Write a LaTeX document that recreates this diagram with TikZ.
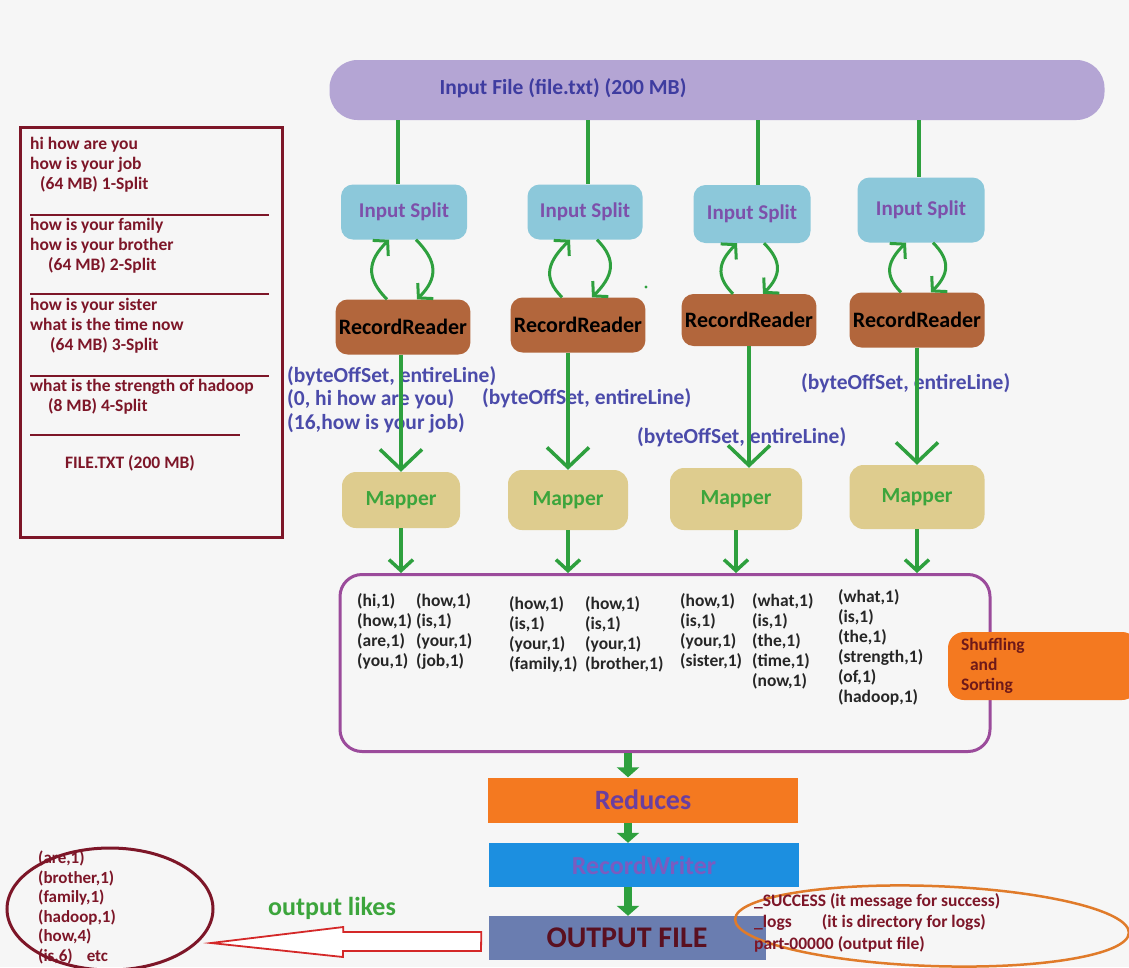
\documentclass[tikz,border=0pt]{standalone}
\usepackage{fontspec}
\setmainfont{Carlito}
\usetikzlibrary{arrows.meta,positioning,calc,shapes.geometric}
\definecolor{pagegray}{RGB}{246,246,246}
\definecolor{filepurple}{RGB}{180,165,212}
\definecolor{fileink}{RGB}{62,60,160}
\definecolor{splitblue}{RGB}{140,200,218}
\definecolor{splitink}{RGB}{125,80,170}
\definecolor{readerbrown}{RGB}{178,102,60}
\definecolor{mappertan}{RGB}{222,204,142}
\definecolor{mapink}{RGB}{60,165,60}
\definecolor{flowgreen}{RGB}{46,160,62}
\definecolor{offsetink}{RGB}{75,75,170}
\definecolor{shufflepurple}{RGB}{155,75,155}
\definecolor{hotorange}{RGB}{244,121,32}
\definecolor{sortink}{RGB}{110,25,25}
\definecolor{reduceink}{RGB}{106,63,160}
\definecolor{writerblue}{RGB}{28,143,224}
\definecolor{writerink}{RGB}{122,92,192}
\definecolor{outslate}{RGB}{106,125,176}
\definecolor{outink}{RGB}{90,16,32}
\definecolor{wine}{RGB}{125,22,40}
\definecolor{logorange}{RGB}{224,123,42}
\definecolor{arrowred}{RGB}{212,40,40}

\begin{document}
\begin{tikzpicture}[x=1pt,y=-1pt,
  boldfont/.style={font=\fontsize{#1}{#1}\selectfont\bfseries},
  filebar/.style={fill=filepurple,rounded corners=28pt,minimum width=775pt,minimum height=60pt},
  splitbox/.style={fill=splitblue,rounded corners=12pt,text=splitink,boldfont=21},
  readerbox/.style={fill=readerbrown,rounded corners=12pt,text=black,boldfont=22},
  mapperbox/.style={fill=mappertan,rounded corners=14pt,text=mapink,boldfont=21.5},
  offsetnote/.style={anchor=north west,align=left,inner sep=0pt,text=offsetink,
                     font=\fontsize{21.5}{23.5}\selectfont\bfseries},
  pairs/.style={anchor=north west,align=left,inner sep=0pt,text=black!85,
                font=\fontsize{17.5}{20}\selectfont\bfseries},
  listtext/.style={anchor=north west,align=left,inner sep=0pt,text=wine,
                   font=\fontsize{17.5}{20}\selectfont\bfseries},
  feed/.style={draw=flowgreen,line width=3.5pt},
  bigv/.style={feed,-{Straight Barb[length=20pt,width=42pt]}},
  smallv/.style={feed,-{Straight Barb[length=11pt,width=24pt]}},
  loopv/.style={feed,line width=3pt,-{Straight Barb[length=10pt,width=22pt]}},
  blockflow/.style={draw=flowgreen,line width=8pt,-{Triangle[length=10pt,width=22pt]}},
  stagebox/.style={minimum width=310pt,minimum height=45pt}]

\fill[pagegray] (0,0) rectangle (1129,967);
\useasboundingbox (0,0) rectangle (1129,967);

% input file
\node[filebar] (infile) at (717,90) {};
\node[text=fileink,boldfont=21.5] (infilelabel) at (563,88) {Input File (file.txt) (200 MB)};

% splits, readers, mappers
\node[splitbox,minimum width=126pt,minimum height=55pt] (split1) at (404,212) {Input Split};
\node[splitbox,minimum width=115pt,minimum height=55pt] (split2) at (585,212) {Input Split};
\node[splitbox,minimum width=117pt,minimum height=58pt] (split3) at (752,214) {Input Split};
\node[splitbox,minimum width=127pt,minimum height=65pt] (split4) at (921,210) {Input Split};

\node[readerbox,minimum width=123pt,minimum height=55pt] (reader1) at (403,327) {RecordReader};
\node[readerbox,minimum width=121pt,minimum height=55pt] (reader2) at (578,325) {RecordReader};
\node[readerbox,minimum width=126pt,minimum height=52pt] (reader3) at (749,320) {RecordReader};
\node[readerbox,minimum width=135pt,minimum height=55pt] (reader4) at (917,320) {RecordReader};

\node[mapperbox,minimum width=118pt,minimum height=56pt] (mapper1) at (401,500) {Mapper};
\node[mapperbox,minimum width=120pt,minimum height=60pt] (mapper2) at (568,500) {Mapper};
\node[mapperbox,minimum width=132pt,minimum height=62pt] (mapper3) at (736,499) {Mapper};
\node[mapperbox,minimum width=135pt,minimum height=64pt] (mapper4) at (917,497) {Mapper};

\foreach \i/\x in {1/398,2/588,3/758,4/919}
  \draw[feed] (\x,0 |- infile.south) -- (\x,0 |- split\i.north);

\foreach \i in {1,...,4}{
  \draw[loopv] ([xshift=-16pt]reader\i.north) to[out=135,in=225,looseness=1.3] ([xshift=-15pt]split\i.south);
  \draw[loopv] ([xshift=12pt]split\i.south) to[out=-45,in=45,looseness=1.3] ([xshift=14pt]reader\i.north);
}
\fill[flowgreen] (646,287) circle (1.6);

% key/value notes
\node[offsetnote] (offset1) at (287,366) {(byteOffSet, entireLine)\\(0, hi how are you)\\(16,how is your job)};
\node[offsetnote] (offset2) at (482,388) {(byteOffSet, entireLine)};
\node[offsetnote] (offset3) at (637,427) {(byteOffSet, entireLine)};
\node[offsetnote] (offset4) at (801,373) {(byteOffSet, entireLine)};

\draw[bigv] (mapper1.north |- reader1.south) -- (mapper1.north);
\draw[bigv] (mapper2.north |- reader2.south) -- (mapper2.north);
\draw[bigv] (reader3.south) -- (reader3.south |- mapper3.north);
\draw[bigv] (reader4.south) -- (reader4.south |- mapper4.north);

% shuffle and sort
\node[draw=shufflepurple,line width=3pt,rounded corners=22pt,minimum width=650pt,
      minimum height=177pt] (shuffle) at (665,663) {};
\foreach \i in {1,...,4}
  \draw[smallv] (mapper\i.south) -- (mapper\i.south |- shuffle.north);

\node[pairs] (pairs1) at (357,593) {(hi,1)\\(how,1)\\(are,1)\\(you,1)};
\node[pairs] (pairs2) at (416,593) {(how,1)\\(is,1)\\(your,1)\\(job,1)};
\node[pairs] (pairs3) at (509,596) {(how,1)\\(is,1)\\(your,1)\\(family,1)};
\node[pairs] (pairs4) at (585,596) {(how,1)\\(is,1)\\(your,1)\\(brother,1)};
\node[pairs] (pairs5) at (680,593) {(how,1)\\(is,1)\\(your,1)\\(sister,1)};
\node[pairs] (pairs6) at (752,593) {(what,1)\\(is,1)\\(the,1)\\(time,1)\\(now,1)};
\node[pairs] (pairs7) at (838,589) {(what,1)\\(is,1)\\(the,1)\\(strength,1)\\(of,1)\\(hadoop,1)};

\node[fill=hotorange,rounded corners=16pt,minimum width=190pt,minimum height=68pt,
      text width=164pt,align=left,text=sortink,font=\fontsize{17.5}{20}\selectfont\bfseries]
      (sorting) at (1043,666) {Shuffling\\\hspace{9pt}and\\Sorting};

% reduce side
\node[stagebox,fill=hotorange,text=reduceink,boldfont=28] (reduce) at (643,800) {Reduces};
\node[stagebox,fill=writerblue,text=writerink,minimum height=44pt,boldfont=26] (writer) at (644,865) {RecordWriter};
\node[stagebox,fill=outslate,text=outink,minimum width=277pt,minimum height=44pt,boldfont=30] (outfile) at (627,938) {OUTPUT FILE};

\coordinate (spine) at (628,0);
\draw[blockflow] (spine |- shuffle.south) -- (spine |- reduce.north);
\draw[blockflow] (spine |- reduce.south) -- (spine |- writer.north);
\draw[blockflow] (spine |- writer.south) -- (spine |- outfile.north);

\node[draw=logorange,line width=2.5pt,ellipse,minimum width=394pt,minimum height=80pt,rotate=-2] (logs) at (932,926) {};
\node[anchor=north west,align=left,inner sep=0pt,text=wine,font=\fontsize{17.5}{21.5}\selectfont\bfseries]
  (logtext) at (754,893) {\_SUCCESS (it message for success)\\\_logs\hspace{30pt}(it is directory for logs)\\part-00000 (output file)};

% final output
\node[draw=wine,line width=3pt,ellipse,minimum width=206pt,minimum height=122pt] (results) at (110,909) {};
\node[anchor=north west,align=left,inner sep=0pt,text=wine,font=\fontsize{17}{19.5}\selectfont\bfseries]
  (resultlist) at (38,851) {(are,1)\\(brother,1)\\(family,1)\\(hadoop,1)\\(how,4)\\(is,6)\hspace{14pt}etc};
\node[text=mapink,boldfont=26] (likes) at (332,908) {output likes};
\coordinate (tip) at (211,943);
\draw[arrowred,line width=1.8pt,fill=white] ([xshift=-7pt]outfile.west) ++(0,-6) -- ++(-138,0) -- ++(0,-5)
  -- (tip) -- ++(132,14) -- ++(0,-6) -- ++(138,0) -- cycle;

% split list
\node[draw=wine,line width=3pt,minimum width=262pt,minimum height=410pt] (splitlist) at (151,332) {};
\node[listtext] (part1) at (30,137) {hi how are you\\how is your job\\\hspace{10pt}(64 MB) 1-Split};
\node[listtext] (part2) at (30,218) {how is your family\\how is your brother\\\hspace{18pt}(64 MB) 2-Split};
\node[listtext] (part3) at (30,298) {how is your sister\\what is the time now\\\hspace{20pt}(64 MB) 3-Split};
\node[listtext] (part4) at (30,379) {what is the strength of hadoop\\\hspace{18pt}(8 MB) 4-Split};
\node[listtext] (filetotal) at (65,455) {FILE.TXT (200 MB)};
\foreach \y/\x in {215/269,294/269,376/269,435/240}
  \draw[wine,line width=1.2pt] (30,\y) -- (\x,\y);
\end{tikzpicture}
\end{document}
